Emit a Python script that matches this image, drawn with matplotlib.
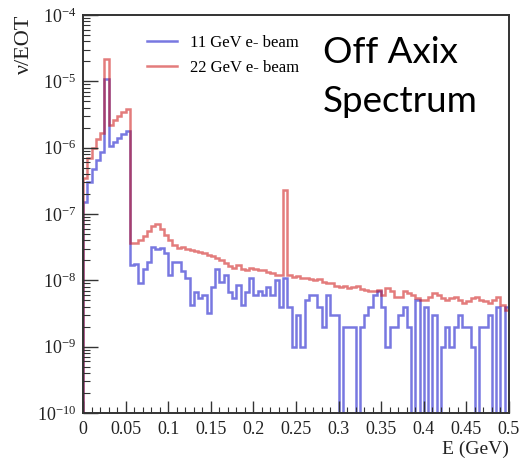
import numpy as np
import matplotlib
matplotlib.use('Agg')
import matplotlib.pyplot as plt
from matplotlib.ticker import LogLocator, MultipleLocator, NullFormatter

# ── DATA (100 bins, 0 - 0.5 GeV)
bin_width = 0.005
n_bins = 100

blue_11gev = [
    1.5e-7, 3.0e-7, 4.8e-7, 6.5e-7, 8.5e-7, 1.1e-5, 1.05e-6, 1.2e-6, 1.4e-6, 1.6e-6,
    1.8e-6, 1.7e-8, 1.75e-8, 9e-9, 1.5e-8, 1.9e-8, 3.2e-8, 3.0e-8, 3.1e-8, 2.55e-8,
    1.2e-8, 1.9e-8, 1.9e-8, 1.4e-8, 1.07e-8, 4.3e-9, 6.6e-9, 5.4e-9, 6e-9, 3.2e-9,
    8e-9, 1.5e-8, 9.4e-9, 1.2e-8, 6.6e-9, 5.4e-9, 8.4e-9, 4.3e-9, 6.6e-9, 1.07e-8,
    6e-9, 7e-9, 6e-9, 8e-9, 6e-9, 1e-8, 4e-9, 1.1e-8, 4e-9, 1e-9,
    3e-9, 1e-9, 5e-9, 6e-9, 6e-9, 4e-9, 2e-9, 6e-9, 3e-9, 3e-9,
    0, 2e-9, 2e-9, 2e-9, 0, 2e-9, 3e-9, 4e-9, 6e-9, 7e-9,
    4e-9, 1e-9, 2e-9, 2e-9, 3e-9, 4e-9, 2e-9, 0, 5e-9, 0,
    4e-9, 0, 3e-9, 0, 1e-9, 2e-9, 1e-9, 2e-9, 3e-9, 2e-9,
    2e-9, 1e-9, 0, 2e-9, 2e-9, 3e-9, 0, 4e-9, 0, 4e-9,
]

red_22gev = [
    3.5e-7, 7.0e-7, 1.0e-6, 1.35e-6, 1.65e-6, 2.2e-5, 2.2e-6, 2.6e-6, 3.0e-6, 3.4e-6,
    3.8e-6, 3.6e-8, 3.7e-8, 4.0e-8, 4.6e-8, 5.6e-8, 6.5e-8, 7.0e-8, 6.0e-8, 4.8e-8,
    4.0e-8, 3.4e-8, 3.1e-8, 3.2e-8, 3.0e-8, 2.9e-8, 2.8e-8, 2.7e-8, 2.6e-8, 2.4e-8,
    2.3e-8, 2.15e-8, 2.0e-8, 1.85e-8, 1.65e-8, 1.55e-8, 1.7e-8, 1.5e-8, 1.45e-8, 1.55e-8,
    1.5e-8, 1.45e-8, 1.42e-8, 1.35e-8, 1.3e-8, 1.22e-8, 1.2e-8, 2.3e-7, 1.2e-8, 1.13e-8,
    1.15e-8, 1.07e-8, 1.1e-8, 1.04e-8, 1.0e-8, 1.04e-8, 9.5e-9, 9.2e-9, 9e-9, 8.3e-9,
    8e-9, 8.3e-9, 7.6e-9, 7.8e-9, 8.3e-9, 7.4e-9, 7.2e-9, 6.9e-9, 6.8e-9, 7.2e-9,
    6.0e-9, 7.6e-9, 6.8e-9, 5.7e-9, 5.7e-9, 6.8e-9, 6.4e-9, 6.0e-9, 5.4e-9, 5.0e-9,
    5.0e-9, 5.7e-9, 6.4e-9, 6.0e-9, 5.5e-9, 5.0e-9, 5.4e-9, 5.7e-9, 5.0e-9, 4.5e-9,
    4.8e-9, 5.4e-9, 5.7e-9, 5.0e-9, 4.9e-9, 4.5e-9, 5.0e-9, 5.7e-9, 4.3e-9, 3.6e-9,
]

series_labels = ['11 GeV e- beam', '22 GeV e- beam']
x_ticks = [0, 0.05, 0.1, 0.15, 0.2, 0.25, 0.3, 0.35, 0.4, 0.45, 0.5]
x_tick_labels = ['0', '0.05', '0.1', '0.15', '0.2', '0.25', '0.3', '0.35', '0.4', '0.45', '0.5']

# ── STYLE
plt.rcParams['font.family'] = ['Liberation Serif', 'DejaVu Serif']
plt.rcParams['mathtext.fontset'] = 'stix'

edges = np.arange(n_bins + 1) * bin_width
floor = 1e-13  # empty bins drop below the axis

fig = plt.figure(figsize=(5.2, 4.63), dpi=100)
ax = fig.add_axes([83 / 520, 1 - 413 / 463, 426 / 520, 398 / 463])

blue_vals = np.maximum(np.array(blue_11gev), floor)
red_vals = np.maximum(np.array(red_22gev), floor)

ax.stairs(blue_vals, edges, baseline=floor, color='#3030d0', alpha=0.65,
          linewidth=1.8, label=series_labels[0])
ax.stairs(red_vals, edges, baseline=floor, color='#cc1010', alpha=0.55,
          linewidth=1.8, label=series_labels[1])

ax.set_yscale('log')
ax.set_xlim(0, 0.5)
ax.set_ylim(1e-10, 1e-4)

ax.set_xticks(x_ticks)
ax.set_xticklabels(x_tick_labels)
ax.xaxis.set_minor_locator(MultipleLocator(0.01))
ax.yaxis.set_major_locator(LogLocator(base=10, numticks=10))
ax.yaxis.set_minor_locator(LogLocator(base=10, subs=np.arange(2, 10), numticks=20))
ax.yaxis.set_minor_formatter(NullFormatter())

ax.tick_params(which='both', direction='in', top=False, right=False,
               labelsize=13, colors='#333333', labelcolor='#222222')
ax.tick_params(axis='y', which='major', length=11, width=1.0, pad=5)
ax.tick_params(axis='y', which='minor', length=5, width=0.8)
ax.tick_params(axis='x', which='major', length=9, width=1.0, pad=6)
ax.tick_params(axis='x', which='minor', length=4.5, width=0.8)

for sp in ax.spines.values():
    sp.set_linewidth(1.4)
    sp.set_color('#333333')

ax.set_ylabel('ν/EOT', loc='top', fontsize=16, color='#222222', labelpad=2)
ax.set_xlabel('E (GeV)', loc='right', fontsize=14, color='#222222', labelpad=2)

ax.legend(loc='upper left', bbox_to_anchor=(147 / 520, 1 - 35 / 463),
          bbox_transform=fig.transFigure, frameon=False, fontsize=12,
          handlelength=1.8, handletextpad=0.8, labelspacing=0.55,
          borderpad=0, borderaxespad=0)

fig.text(323 / 520, 1 - 63 / 463, 'Off Axix', fontsize=26.5, family='Lato',
         ha='left', va='baseline', color='black')
fig.text(323 / 520, 1 - 112 / 463, 'Spectrum', fontsize=26.5, family='Lato',
         ha='left', va='baseline', color='black')

fig.savefig('out.png', dpi=100)
